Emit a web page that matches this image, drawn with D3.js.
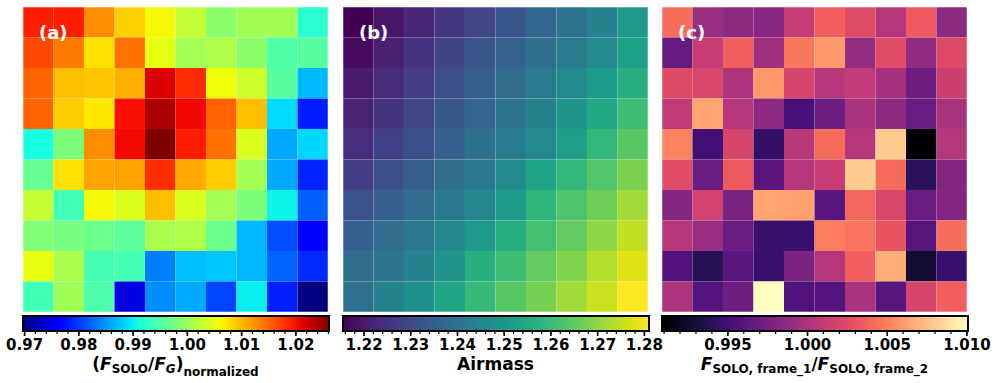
<!DOCTYPE html>
<html>
<head>
<meta charset="utf-8">
<script src="https://cdn.jsdelivr.net/npm/d3@7"></script>
<style>
  body { margin: 0; background: #fff; }
  text { font-family: "DejaVu Sans", sans-serif; font-weight: bold; }
</style>
</head>
<body>
<svg id="chart" width="997" height="383"></svg>
<script>
// (a) normalized flux ratio, rows top -> bottom
var fluxRatio = [
  [1.0193,1.0193,1.0127,1.0087,1.0062,1.0027,0.9991,1.0005,1.0005,0.9924],
  [1.0168,1.0138,1.0077,1.0144,1.0053,1.0008,1.0016,0.9991,0.9950,0.9955],
  [1.0152,1.0097,1.0093,1.0106,1.0217,1.0187,1.0059,1.0035,0.9955,0.9870],
  [1.0152,1.0089,1.0073,1.0202,1.0241,1.0207,1.0152,1.0097,0.9890,0.9784],
  [0.9911,0.9980,1.0127,1.0206,1.0262,1.0194,1.0144,1.0044,0.9862,0.9888],
  [0.9965,1.0077,1.0114,1.0114,1.0183,1.0110,1.0089,1.0008,0.9862,0.9788],
  [1.0030,0.9939,1.0062,1.0044,1.0098,1.0044,1.0008,0.9980,0.9904,0.9822],
  [0.9983,0.9976,0.9969,0.9959,1.0012,1.0016,0.9969,0.9870,0.9812,0.9766],
  [1.0053,1.0012,0.9943,0.9943,0.9839,0.9874,0.9878,0.9870,0.9824,0.9791],
  [0.9939,1.0005,0.9948,0.9745,0.9847,0.9863,0.9806,0.9901,0.9786,0.9698]
];

// (b) airmass
var airmass = [
  [1.2156,1.2195,1.2228,1.2261,1.2294,1.2326,1.2372,1.2405,1.2444,1.2510],
  [1.2176,1.2215,1.2254,1.2287,1.2326,1.2359,1.2392,1.2425,1.2464,1.2529],
  [1.2202,1.2235,1.2274,1.2313,1.2353,1.2385,1.2425,1.2464,1.2516,1.2569],
  [1.2222,1.2254,1.2294,1.2333,1.2372,1.2405,1.2444,1.2497,1.2549,1.2608],
  [1.2241,1.2280,1.2313,1.2353,1.2392,1.2425,1.2464,1.2523,1.2588,1.2641],
  [1.2274,1.2313,1.2346,1.2385,1.2418,1.2470,1.2536,1.2588,1.2634,1.2680],
  [1.2320,1.2353,1.2385,1.2418,1.2457,1.2516,1.2582,1.2628,1.2667,1.2719],
  [1.2353,1.2385,1.2418,1.2457,1.2510,1.2562,1.2615,1.2654,1.2700,1.2752],
  [1.2385,1.2405,1.2444,1.2497,1.2569,1.2608,1.2654,1.2687,1.2739,1.2778],
  [1.2398,1.2444,1.2484,1.2542,1.2595,1.2641,1.2673,1.2719,1.2759,1.2811]
];

// (c) frame_1 / frame_2 ratio
var frameRatio = [
  [1.0043,0.9992,0.9986,0.9984,1.0013,1.0036,1.0026,1.0005,1.0034,0.9986],
  [0.9967,1.0013,1.0036,0.9994,1.0047,1.0059,0.9990,1.0026,0.9988,1.0024],
  [1.0024,1.0022,1.0001,1.0059,1.0020,1.0005,1.0009,0.9997,0.9972,1.0015],
  [1.0009,1.0065,1.0005,0.9986,0.9953,0.9972,0.9999,0.9986,0.9969,0.9999],
  [1.0051,0.9951,1.0020,0.9944,1.0007,1.0042,1.0005,1.0080,0.9909,1.0005],
  [1.0026,0.9969,1.0034,0.9961,1.0005,1.0013,1.0080,1.0042,0.9940,0.9982],
  [0.9982,1.0018,0.9976,1.0065,1.0063,0.9961,1.0040,1.0022,0.9969,0.9982],
  [1.0005,0.9992,0.9969,0.9946,0.9947,1.0049,1.0045,1.0030,0.9961,1.0043],
  [0.9957,0.9938,0.9963,0.9947,0.9978,1.0005,1.0036,1.0068,0.9926,0.9947],
  [1.0001,0.9959,0.9972,1.0101,0.9957,0.9959,0.9999,0.9961,1.0020,1.0036]
];

var ticksA = [0.97, 0.98, 0.99, 1.00, 1.01, 1.02];
var ticksB = [1.22, 1.23, 1.24, 1.25, 1.26, 1.27, 1.28];
var ticksC = [0.995, 1.000, 1.005, 1.010];
var panelLabels = ["(a)", "(b)", "(c)"];

// matplotlib "jet" segment data
var jetR = d3.scaleLinear().domain([0, 0.35, 0.66, 0.89, 1]).range([0, 0, 1, 1, 0.5]).clamp(true);
var jetG = d3.scaleLinear().domain([0, 0.125, 0.375, 0.64, 0.91, 1]).range([0, 0, 1, 1, 0, 0]).clamp(true);
var jetB = d3.scaleLinear().domain([0, 0.11, 0.34, 0.65, 1]).range([0.5, 1, 1, 0, 0]).clamp(true);
function jet(t) {
  return d3.rgb(jetR(t) * 255, jetG(t) * 255, jetB(t) * 255).toString();
}

var panels = [
  { grid: fluxRatio, cmap: jet, ticks: ticksA, minorStep: 0.002, fmt: ".2f", left: 23 },
  { grid: airmass, cmap: d3.interpolateViridis, ticks: ticksB, minorStep: 0.002, fmt: ".2f", left: 343 },
  { grid: frameRatio, cmap: d3.interpolateMagma, ticks: ticksC, minorStep: 0.001, fmt: ".3f", left: 662 }
];

var size = 305, panelTop = 7;
var cbTop = 316, cbHeight = 15;

var svg = d3.select("#chart");
svg.append("rect").attr("width", 997).attr("height", 383).attr("fill", "#fff");
var defs = svg.append("defs");

var band = d3.scaleBand().domain(d3.range(10)).range([0, size]);

panels.forEach(function(p, k) {
  var flat = d3.merge(p.grid);
  var ext = d3.extent(flat);
  var color = d3.scaleSequential(p.cmap).domain(ext);

  var g = svg.append("g").attr("transform", "translate(" + p.left + "," + panelTop + ")");

  p.grid.forEach(function(row, r) {
    g.selectAll(null)
      .data(row)
      .enter()
      .append("rect")
      .attr("x", function(d, c) { return band(c); })
      .attr("y", band(r))
      .attr("width", band.bandwidth())
      .attr("height", band.bandwidth())
      .attr("fill", function(d) { return color(d); })
      .attr("stroke", "rgba(255,255,255,0.06)")
      .attr("stroke-width", 0.5);
  });

  g.append("rect")
    .attr("width", size).attr("height", size)
    .attr("fill", "none")
    .attr("stroke", "rgba(255,255,255,0.5)")
    .attr("stroke-width", 1);

  g.append("text")
    .attr("x", 16).attr("y", 32)
    .attr("fill", "#fff")
    .style("font-size", "18px")
    .text(panelLabels[k]);

  // colorbar
  var gid = "grad" + k;
  var grad = defs.append("linearGradient").attr("id", gid)
    .attr("x1", "0%").attr("x2", "100%").attr("y1", "0%").attr("y2", "0%");
  d3.range(0, 1.0001, 0.02).forEach(function(t) {
    grad.append("stop").attr("offset", (t * 100) + "%").attr("stop-color", d3.color(p.cmap(t)).formatHex());
  });

  var cb = svg.append("g").attr("transform", "translate(" + p.left + "," + cbTop + ")");
  var x = d3.scaleLinear().domain(ext).range([0, size + 1]);

  cb.append("rect")
    .attr("width", size + 1).attr("height", cbHeight)
    .attr("fill", "url(#" + gid + ")");

  var minor = d3.range(Math.ceil(ext[0] / p.minorStep) * p.minorStep, ext[1] + 1e-9, p.minorStep)
    .filter(function(v) { return v >= ext[0] && v <= ext[1]; });

  cb.append("g")
    .attr("transform", "translate(0," + cbHeight + ")")
    .call(d3.axisBottom(x).tickValues(minor).tickSize(3).tickFormat(""))
    .call(function(a) { a.select(".domain").remove(); a.selectAll("line").attr("stroke-width", 1.2); });

  cb.append("g")
    .attr("transform", "translate(0," + cbHeight + ")")
    .call(d3.axisBottom(x).tickValues(p.ticks).tickSize(5).tickPadding(3).tickFormat(d3.format(p.fmt)))
    .call(function(a) {
      a.select(".domain").remove();
      a.selectAll("line").attr("stroke-width", 1.6);
      a.selectAll("text").attr("fill", "#000").style("font-size", "15px")
        .style("font-family", "'DejaVu Sans', sans-serif").style("font-weight", "bold");
    });

  cb.append("rect")
    .attr("width", size + 1).attr("height", cbHeight)
    .attr("fill", "none").attr("stroke", "#000").attr("stroke-width", 2);
});

// axis titles
var cx = function(k) { return panels[k].left + size / 2; };

var t1 = svg.append("text").attr("x", cx(0)).attr("y", 370)
  .attr("text-anchor", "middle").style("font-size", "17px");
t1.append("tspan").text("(");
t1.append("tspan").style("font-style", "italic").text("F");
t1.append("tspan").attr("dy", 3).style("font-size", "12px").text("SOLO");
t1.append("tspan").attr("dy", -3).text("/");
t1.append("tspan").style("font-style", "italic").text("F");
t1.append("tspan").attr("dy", 3).style("font-size", "12px").style("font-style", "italic").text("G");
t1.append("tspan").attr("dy", -3).text(")");
t1.append("tspan").attr("dy", 6).style("font-size", "12px").text("normalized");

svg.append("text").attr("x", cx(1)).attr("y", 370)
  .attr("text-anchor", "middle").style("font-size", "17px").text("Airmass");

var t3 = svg.append("text").attr("x", cx(2)).attr("y", 370)
  .attr("text-anchor", "middle").style("font-size", "17px");
t3.append("tspan").style("font-style", "italic").text("F");
t3.append("tspan").attr("dy", 3).style("font-size", "12px").text("SOLO, frame_1");
t3.append("tspan").attr("dy", -3).text("/");
t3.append("tspan").style("font-style", "italic").text("F");
t3.append("tspan").attr("dy", 3).style("font-size", "12px").text("SOLO, frame_2");
</script>
</body>
</html>
